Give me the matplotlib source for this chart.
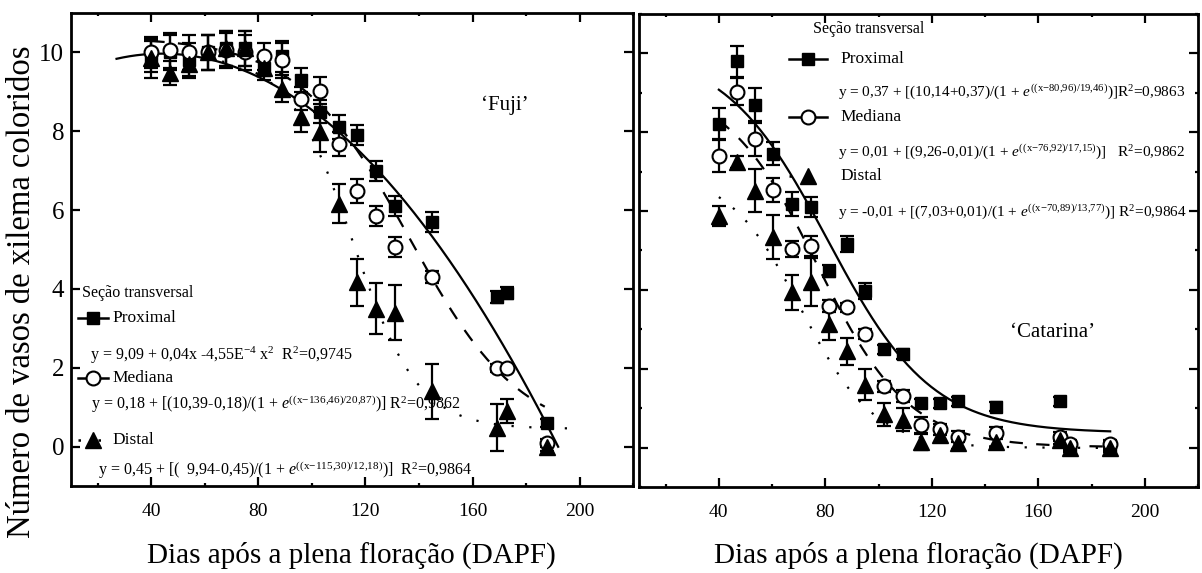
import numpy as np
import matplotlib
matplotlib.use("Agg")
from matplotlib import pyplot as plt
from matplotlib.ticker import MultipleLocator

plt.rcParams['font.family'] = ['Liberation Serif', 'DejaVu Serif']
plt.rcParams['mathtext.fontset'] = 'custom'
plt.rcParams['mathtext.rm'] = 'Liberation Serif'
plt.rcParams['mathtext.it'] = 'Liberation Serif:italic'

# dias apos a plena floracao
dias_fuji = [40, 47, 54, 61, 68, 75, 82, 89, 96, 103, 110, 117, 124, 131, 145, 169, 173, 188]
dias_cat = [40, 47, 53.5, 60.5, 67.5, 74.5, 81.5, 88, 95, 102, 109, 116, 123, 130, 144, 168, 172, 187]

# 'Fuji'
fuji_prox = [9.9, 10.0, 9.8, 10.0, 10.1, 10.1, 9.6, 9.9, 9.3, 8.5, 8.1, 7.9, 7.0, 6.1, 5.7, 3.8, 3.9, 0.6]
fuji_prox_err = [0.4, 0.45, 0.45, 0.45, 0.45, 0.45, 0.3, 0.4, 0.3, 0.3, 0.3, 0.25, 0.25, 0.25, 0.25, 0.15, 0.15, 0.1]
fuji_med = [10.0, 10.05, 10.0, 10.0, 10.05, 10.0, 9.9, 9.8, 8.83, 9.03, 7.68, 6.49, 5.85, 5.06, 4.3, 2.0, 2.0, 0.1]
fuji_med_err = [0.4, 0.45, 0.45, 0.45, 0.45, 0.45, 0.35, 0.45, 0.3, 0.35, 0.3, 0.3, 0.25, 0.25, 0.15, 0.1, 0.1, 0.1]
fuji_dist = [9.85, 9.47, 9.7, 10.0, 10.1, 10.1, 9.6, 9.08, 8.37, 7.98, 6.16, 4.17, 3.5, 3.4, 1.4, 0.48, 0.9, 0.0]
fuji_dist_err = [0.5, 0.3, 0.3, 0.45, 0.45, 0.45, 0.2, 0.35, 0.4, 0.5, 0.5, 0.6, 0.65, 0.7, 0.7, 0.6, 0.3, 0.1]

# 'Catarina'
cat_prox = [8.22, 9.8, 8.68, 7.46, 6.18, 6.1, 4.48, 5.16, 3.97, 2.49, 2.37, 1.12, 1.12, 1.17, 1.04, 1.17, 0.03, 0.03]
cat_prox_err = [0.4, 0.4, 0.45, 0.3, 0.3, 0.25, 0.15, 0.2, 0.2, 0.12, 0.12, 0.12, 0.12, 0.12, 0.12, 0.12, 0.1, 0.1]
cat_med = [7.4, 9.03, 7.84, 6.54, 5.04, 5.12, 3.59, 3.56, 2.88, 1.55, 1.3, 0.58, 0.46, 0.28, 0.38, 0.28, 0.08, 0.08]
cat_med_err = [0.4, 0.35, 0.45, 0.3, 0.2, 0.25, 0.15, 0.12, 0.12, 0.15, 0.15, 0.2, 0.15, 0.15, 0.15, 0.12, 0.1, 0.1]
cat_dist = [5.88, 7.25, 6.52, 5.34, 3.94, 4.2, 3.13, 2.44, 1.6, 0.84, 0.71, 0.15, 0.33, 0.12, 0.15, 0.2, 0.0, 0.0]
cat_dist_err = [0.25, 0.15, 0.55, 0.55, 0.45, 0.6, 0.4, 0.35, 0.4, 0.3, 0.3, 0.2, 0.2, 0.15, 0.15, 0.12, 0.1, 0.1]

# ajustes: quadratico (a, b, c) e sigmoidal (base, topo, x0, s)
fuji_prox_fit = (9.09, 0.04, -4.55e-4)
fuji_med_fit = (0.18, 10.39, 136.46, 20.87)
fuji_dist_fit = (0.45, 9.94, 115.30, 12.18)
cat_prox_fit = (0.37, 10.14, 80.96, 19.46)
cat_med_fit = (0.01, 9.26, 76.92, 17.15)
cat_dist_fit = (-0.01, 7.03, 70.89, 13.77)

fuji_eqs = [r"y = 9,09 + 0,04x -4,55E$^{-4}$ x$^{2}$  R$^{2}$=0,9745",
            r"y = 0,18 + [(10,39-0,18)/(1 + $e^{\mathrm{((x{-}136{,}46)/20{,}87)}}$)] R$^{2}$=0,9862",
            r"y = 0,45 + [(  9,94-0,45)/(1 + $e^{\mathrm{((x{-}115{,}30)/12{,}18)}}$)]  R$^{2}$=0,9864"]
cat_eqs = [r"y = 0,37 + [(10,14+0,37)/(1 + $e^{\mathrm{((x{-}80{,}96)/19{,}46)}}$)]R$^{2}$=0,9863",
           r"y = 0,01 + [(9,26-0,01)/(1 + $e^{\mathrm{((x{-}76{,}92)/17{,}15)}}$)]   R$^{2}$=0,9862",
           r"y = -0,01 + [(7,03+0,01)/(1 + $e^{\mathrm{((x{-}70{,}89)/13{,}77)}}$)] R$^{2}$=0,9864"]
secoes = ["Proximal", "Mediana", "Distal"]


def quad(x, p):
    return p[0] + p[1] * x + p[2] * x ** 2


def sigm(x, p):
    base, topo, x0, s = p
    return base + (topo - base) / (1 + np.exp((x - x0) / s))


sq = dict(marker='s', ms=9, mfc='black', mec='black')
ci = dict(marker='o', ms=10, mfc='white', mec='black', mew=1.5)
tr = dict(marker='^', ms=11, mfc='black', mec='black')
styles = [sq, ci, tr]
lstyles = ['-', (0, (6, 6)), (0, (1, 7))]


def series(ax, x, y, e, st):
    ax.errorbar(x, y, yerr=e, fmt='none', ecolor='black', elinewidth=1.6,
                capsize=5, capthick=1.6, zorder=3)
    ax.plot(x, y, ls='none', zorder=4, **st)


def frame(ax, ylabels=True):
    ax.set_xlim(10, 220)
    ax.set_ylim(-1, 11)
    ax.xaxis.set_minor_locator(MultipleLocator(20))
    ax.set_xticks([40, 80, 120, 160, 200])
    ax.set_yticks([0, 2, 4, 6, 8, 10])
    ax.tick_params(which='both', direction='in', top=True, right=True, width=1.6)
    ax.tick_params(which='major', length=6.5)
    ax.tick_params(which='minor', length=2.5)
    ax.tick_params(axis='x', labelsize=14, pad=12)
    ax.tick_params(axis='y', labelsize=18, pad=5, labelleft=ylabels)
    for s in ax.spines.values():
        s.set_linewidth(2)


def legenda(ax, x_tit, y_tit, x_key, x_txt, x_eq, ys_key, ys_eq, eqs, fs_eq, dx=0.026):
    ax.text(x_tit, y_tit, "Seção transversal", transform=ax.transAxes,
            fontsize=11.5, va='center', ha='left')
    for i in range(3):
        ax.plot([x_key - dx, x_key + dx], [ys_key[i], ys_key[i]], transform=ax.transAxes,
                color='black', lw=1.8, ls=lstyles[i] if i == 2 else '-', clip_on=False)
        ax.plot([x_key], [ys_key[i]], transform=ax.transAxes, clip_on=False, **styles[i])
        ax.text(x_txt, ys_key[i], secoes[i], transform=ax.transAxes, fontsize=12.5,
                va='center', ha='left')
        ax.text(x_eq[i], ys_eq[i], eqs[i], transform=ax.transAxes, fontsize=fs_eq,
                va='center', ha='left')


fig = plt.figure(figsize=(12.02, 5.73), dpi=100)
ax1 = fig.add_axes([0.0591, 0.1518, 0.4676, 0.8255])
ax2 = fig.add_axes([0.5316, 0.1501, 0.4651, 0.8255])

# Fuji
series(ax1, dias_fuji, fuji_prox, fuji_prox_err, sq)
series(ax1, dias_fuji, fuji_med, fuji_med_err, ci)
series(ax1, dias_fuji, fuji_dist, fuji_dist_err, tr)
xq = np.linspace(27, 192, 200)
ax1.plot(xq, quad(xq, fuji_prox_fit), color='black', lw=1.6, zorder=2)
xm = np.linspace(40, 187, 200)
ax1.plot(xm, sigm(xm, fuji_med_fit), color='black', lw=1.6, ls=lstyles[1], zorder=2)
xd = np.linspace(40, 196, 200)
ax1.plot(xd, sigm(xd, fuji_dist_fit), color='black', lw=1.6, ls=lstyles[2], zorder=2)
frame(ax1)
ax1.text(0.772, 0.805, "\u2018Fuji\u2019", transform=ax1.transAxes, fontsize=15,
         ha='center', va='center')
legenda(ax1, 0.0196, 0.408, 0.039, 0.073, [0.034, 0.036, 0.048],
        [0.355, 0.228, 0.097], [0.277, 0.173, 0.034], fuji_eqs, 11.5)

# Catarina
series(ax2, dias_cat, cat_prox, cat_prox_err, sq)
series(ax2, dias_cat, cat_med, cat_med_err, ci)
series(ax2, dias_cat, cat_dist, cat_dist_err, tr)
xc = np.linspace(40, 187, 200)
ax2.plot(xc, sigm(xc, cat_prox_fit), color='black', lw=1.6, zorder=2)
ax2.plot(xc, sigm(xc, cat_med_fit), color='black', lw=1.6, ls=lstyles[1], zorder=2)
ax2.plot(xc, sigm(xc, cat_dist_fit), color='black', lw=1.6, ls=lstyles[2], zorder=2)
frame(ax2, ylabels=False)
ax2.yaxis.set_minor_locator(MultipleLocator(1))
ax2.text(0.739, 0.326, "\u2018Catarina\u2019", transform=ax2.transAxes, fontsize=15,
         ha='center', va='center')
legenda(ax2, 0.311, 0.968, 0.302, 0.36, [0.356, 0.356, 0.356],
        [0.905, 0.782, 0.657], [0.835, 0.71, 0.583], cat_eqs, 11, dx=0.034)

fig.text(0.0183, 0.49, "Número de vasos de xilema coloridos", rotation=90,
         fontsize=23.5, ha='center', va='center')
fig.text(0.292, 0.0314, "Dias após a plena floração (DAPF)", fontsize=21,
         ha='center', va='center')
fig.text(0.7637, 0.0314, "Dias após a plena floração (DAPF)", fontsize=21,
         ha='center', va='center')

fig.savefig("out.png", dpi=100)
